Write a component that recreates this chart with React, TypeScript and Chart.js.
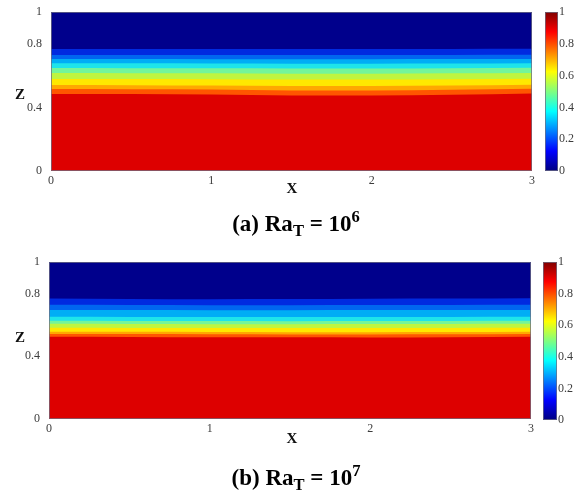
import React, { useEffect, useRef } from "react";
import { Chart, registerables } from "chart.js";

Chart.register(...registerables);

// horizontal stations where isotherm heights are sampled
const xStations = [0, 0.5, 1, 1.5, 2, 2.5, 3];
const xTickValues = [0, 1, 2, 3];
const zTickValues = [0, 0.4, 0.8, 1];
const colorbarTickValues = [0, 0.2, 0.4, 0.6, 0.8, 1];

// isotherm heights z(x) for Ra_T = 10^6, lowest contour first
const isothermsRa6 = [
  [0.485, 0.484, 0.481, 0.475, 0.475, 0.479, 0.487],
  [0.515, 0.514, 0.512, 0.507, 0.507, 0.511, 0.517],
  [0.541, 0.54, 0.538, 0.535, 0.535, 0.538, 0.543],
  [0.579, 0.578, 0.577, 0.575, 0.575, 0.577, 0.58],
  [0.616, 0.615, 0.614, 0.612, 0.612, 0.614, 0.617],
  [0.648, 0.647, 0.646, 0.645, 0.645, 0.647, 0.649],
  [0.677, 0.677, 0.676, 0.675, 0.675, 0.676, 0.678],
  [0.704, 0.704, 0.703, 0.703, 0.703, 0.704, 0.705],
  [0.73, 0.73, 0.729, 0.729, 0.729, 0.73, 0.731],
  [0.768, 0.768, 0.768, 0.767, 0.767, 0.768, 0.769],
];

// isotherm heights z(x) for Ra_T = 10^7, lowest contour first
const isothermsRa7 = [
  [0.524, 0.523, 0.521, 0.52, 0.519, 0.521, 0.524],
  [0.541, 0.541, 0.54, 0.539, 0.539, 0.54, 0.542],
  [0.556, 0.555, 0.554, 0.553, 0.553, 0.554, 0.556],
  [0.581, 0.58, 0.579, 0.579, 0.579, 0.58, 0.581],
  [0.606, 0.605, 0.604, 0.604, 0.605, 0.605, 0.606],
  [0.626, 0.625, 0.624, 0.623, 0.624, 0.625, 0.626],
  [0.651, 0.65, 0.65, 0.649, 0.65, 0.65, 0.651],
  [0.695, 0.694, 0.693, 0.693, 0.694, 0.694, 0.695],
  [0.727, 0.726, 0.725, 0.725, 0.726, 0.726, 0.727],
  [0.768, 0.765, 0.763, 0.764, 0.766, 0.767, 0.769],
];

// domain top
const zTop = [1, 1, 1, 1, 1, 1, 1];

// filled band colours, from the warm bottom layer up to the cold top layer
const bandColors = [
  "#dd0000",
  "#ff5500",
  "#ffa800",
  "#ffe800",
  "#bff540",
  "#74f59a",
  "#1ee4ea",
  "#00adf5",
  "#0066f0",
  "#002ae0",
  "#00008c",
];

// jet colour map stops for the colour bar
const jetStops: [number, string][] = [
  [0, "#000080"],
  [0.125, "#0000ff"],
  [0.375, "#00ffff"],
  [0.625, "#ffff00"],
  [0.875, "#ff0000"],
  [1, "#800000"],
];

const tickFont = { family: "'Liberation Serif', 'Times New Roman', serif", size: 12 };
const tickColor = "#3c3c3c";
const fmt = (v: any) => String(Number(Number(v).toFixed(1)));

const framePlugin = {
  id: "frame",
  afterDraw(chart: any) {
    const { ctx, chartArea: a } = chart;
    ctx.save();
    ctx.strokeStyle = "rgba(110,110,130,0.75)";
    ctx.lineWidth = 1;
    ctx.strokeRect(a.left + 0.5, a.top + 0.5, a.width - 1, a.height - 1);
    ctx.restore();
  },
};

type Box = { padTop: number; padRight: number; yAxisWidth: number; xAxisHeight: number };

function FieldChart({ isotherms, box, width, height }: { isotherms: number[][]; box: Box; width: number; height: number }) {
  const ref = useRef<HTMLCanvasElement>(null);
  useEffect(() => {
    const lines = [...isotherms, zTop];
    const chart = new Chart(ref.current!, {
      type: "line",
      data: {
        datasets: lines.map((zs, i) => ({
          data: xStations.map((x, j) => ({ x, y: zs[j] })),
          backgroundColor: bandColors[i],
          borderColor: "rgba(0,0,0,0)",
          borderWidth: 0,
          pointRadius: 0,
          fill: "origin",
          tension: 0.4,
          cubicInterpolationMode: "monotone",
          order: i,
        })),
      },
      options: {
        animation: false,
        responsive: false,
        maintainAspectRatio: false,
        events: [],
        layout: { padding: { left: 0, right: box.padRight, top: box.padTop, bottom: 0 } },
        plugins: { legend: { display: false }, tooltip: { enabled: false } },
        scales: {
          x: {
            type: "linear",
            min: 0,
            max: 3,
            grid: { display: false, drawTicks: false, tickLength: 0 },
            border: { display: false },
            afterBuildTicks: (s: any) => {
              s.ticks = xTickValues.map((v) => ({ value: v }));
            },
            ticks: { font: tickFont, color: tickColor, padding: 3, maxRotation: 0, callback: fmt },
            afterFit: (s: any) => {
              s.height = box.xAxisHeight;
              s.paddingLeft = 0;
              s.paddingRight = 0;
            },
          },
          y: {
            type: "linear",
            min: 0,
            max: 1,
            grid: { display: false, drawTicks: false, tickLength: 0 },
            border: { display: false },
            afterBuildTicks: (s: any) => {
              s.ticks = zTickValues.map((v) => ({ value: v }));
            },
            ticks: { font: tickFont, color: tickColor, padding: 9, callback: fmt },
            afterFit: (s: any) => {
              s.width = box.yAxisWidth;
              s.paddingTop = 0;
              s.paddingBottom = 0;
            },
          },
        },
      },
      plugins: [framePlugin],
    } as any);
    return () => chart.destroy();
  }, [isotherms, box]);
  return <canvas ref={ref} width={width} height={height} style={{ display: "block" }} />;
}

function ColorBar({ padLeft, padTop, padBottom, axisWidth, width, height }: { padLeft: number; padTop: number; padBottom: number; axisWidth: number; width: number; height: number }) {
  const ref = useRef<HTMLCanvasElement>(null);
  useEffect(() => {
    const chart = new Chart(ref.current!, {
      type: "bar",
      data: {
        labels: ["T"],
        datasets: [
          {
            data: [1],
            barPercentage: 1,
            categoryPercentage: 1,
            borderWidth: 0,
            backgroundColor: (c: any) => {
              const area = c.chart.chartArea;
              if (!area) return "#000080";
              const g = c.chart.ctx.createLinearGradient(0, area.bottom, 0, area.top);
              jetStops.forEach(([p, col]) => g.addColorStop(p, col));
              return g;
            },
          },
        ],
      },
      options: {
        animation: false,
        responsive: false,
        maintainAspectRatio: false,
        events: [],
        layout: { padding: { left: padLeft, right: 0, top: padTop, bottom: padBottom } },
        plugins: { legend: { display: false }, tooltip: { enabled: false } },
        scales: {
          x: { display: false },
          y: {
            position: "right",
            min: 0,
            max: 1,
            grid: { display: false, drawTicks: false, tickLength: 0 },
            border: { display: false },
            afterBuildTicks: (s: any) => {
              s.ticks = colorbarTickValues.map((v) => ({ value: v }));
            },
            ticks: { font: tickFont, color: tickColor, padding: 1, callback: fmt },
            afterFit: (s: any) => {
              s.width = axisWidth;
              s.paddingTop = 0;
              s.paddingBottom = 0;
            },
          },
        },
      },
      plugins: [framePlugin],
    } as any);
    return () => chart.destroy();
  }, []);
  return <canvas ref={ref} width={width} height={height} style={{ display: "block" }} />;
}

const serif = "'Liberation Serif', 'Times New Roman', serif";

function Caption({ tag, exp, top }: { tag: string; exp: string; top: number }) {
  return (
    <div
      style={{
        position: "absolute",
        left: 296,
        top,
        transform: "translateX(-50%)",
        whiteSpace: "nowrap",
        fontFamily: serif,
        fontWeight: "bold",
        fontSize: 23,
        lineHeight: "24px",
        color: "#000",
      }}
    >
      ({tag}) Ra
      <span style={{ fontSize: "0.72em", position: "relative", top: "0.3em" }}>T</span> = 10
      <span style={{ fontSize: "0.72em", position: "relative", top: "-0.55em" }}>{exp}</span>
    </div>
  );
}

const axisLabel = (text: string, left: number, top: number) => (
  <div
    style={{
      position: "absolute",
      left,
      top,
      transform: "translate(-50%, -50%)",
      fontFamily: serif,
      fontWeight: "bold",
      fontSize: 15,
      lineHeight: "16px",
      color: "#111",
    }}
  >
    {text}
  </div>
);

const boxRa6: Box = { padTop: 12, padRight: 13, yAxisWidth: 51, xAxisHeight: 29 };
const boxRa7: Box = { padTop: 12, padRight: 14, yAxisWidth: 49, xAxisHeight: 31 };

export default function App() {
  return (
    <div style={{ position: "absolute", left: 0, top: 0, width: 583, height: 491, background: "#fff", overflow: "hidden" }}>
      <div style={{ position: "absolute", left: 0, top: 0 }}>
        <FieldChart isotherms={isothermsRa6} box={boxRa6} width={545} height={200} />
      </div>
      <div style={{ position: "absolute", left: 540, top: 0 }}>
        <ColorBar padLeft={5} padTop={12} padBottom={29} axisWidth={25} width={43} height={200} />
      </div>
      {axisLabel("Z", 20, 94)}
      {axisLabel("X", 292, 188)}
      <Caption tag="a" exp="6" top={212} />

      <div style={{ position: "absolute", left: 0, top: 250 }}>
        <FieldChart isotherms={isothermsRa7} box={boxRa7} width={545} height={200} />
      </div>
      <div style={{ position: "absolute", left: 540, top: 250 }}>
        <ColorBar padLeft={3} padTop={12} padBottom={30} axisWidth={26} width={43} height={200} />
      </div>
      {axisLabel("Z", 20, 337)}
      {axisLabel("X", 292, 438)}
      <Caption tag="b" exp="7" top={466} />
    </div>
  );
}
